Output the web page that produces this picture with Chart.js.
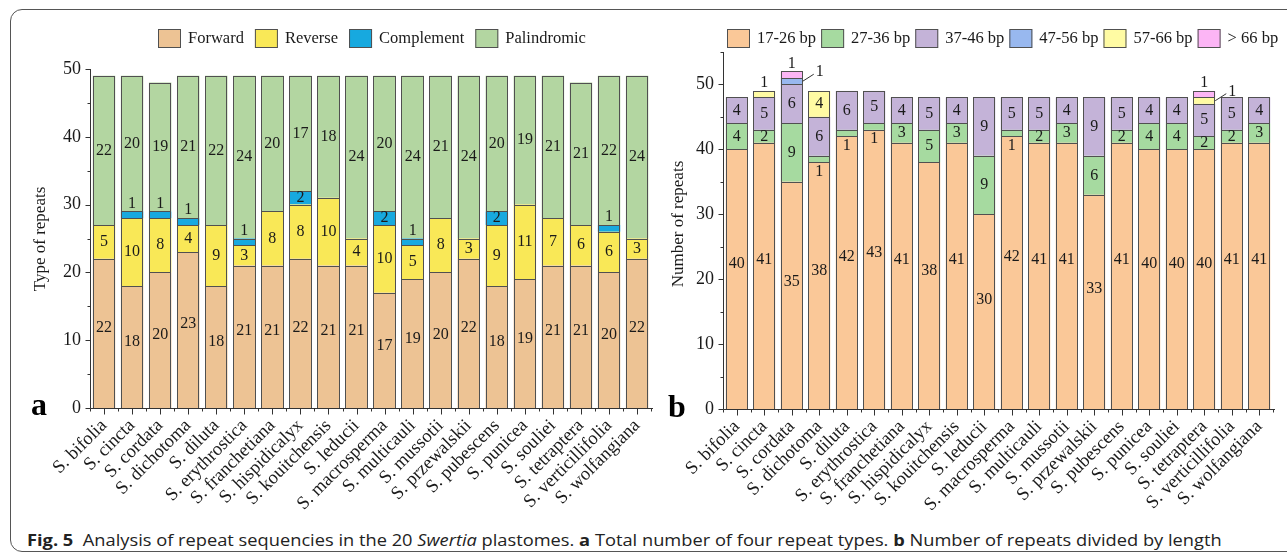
<!DOCTYPE html>
<html>
<head>
<meta charset="utf-8">
<script src="https://cdn.jsdelivr.net/npm/chart.js@4.4.1/dist/chart.umd.min.js"></script>
<style>
  html, body { margin: 0; padding: 0; background: #fff; }
  #fig { position: relative; width: 1287px; height: 554px; overflow: hidden; background: #fff; }
  #frame { position: absolute; left: 10px; top: 9px; width: 1320px; height: 543px;
           border: 1.3px solid #555; border-radius: 12px; box-sizing: border-box; }
  #ca { position: absolute; left: 0; top: 0; }
  #cb { position: absolute; left: 660px; top: 0; }
  #caption { position: absolute; left: 27px; top: 529px; font-family: 'Open Sans', sans-serif;
             font-size: 15.5px; color: #222; white-space: nowrap;
             transform-origin: 0 50%; transform: scaleX(1.178); }
  #caption b { font-weight: 700; }
</style>
</head>
<body>
<div id="fig">
  <div id="frame"></div>
  <canvas id="ca" width="660" height="510"></canvas>
  <canvas id="cb" width="627" height="510"></canvas>
  <div id="caption"><b>Fig. 5</b>&nbsp;&nbsp;Analysis of repeat sequencies in the 20 <i>Swertia</i> plastomes. <b>a</b> Total number of four repeat types. <b>b</b> Number of repeats divided by length</div>
</div>
<script>
// Species (x categories, shared by both panels)
const species = ['S. bifolia', 'S. cincta', 'S. cordata', 'S. dichotoma', 'S. diluta',
  'S. erythrostica', 'S. franchetiana', 'S. hispidicalyx', 'S. kouitchensis', 'S. leducii',
  'S. macrosperma', 'S. multicauli', 'S. mussotii', 'S. przewalskii', 'S. pubescens',
  'S. punicea', 'S. souliei', 'S. tetraptera', 'S. verticillifolia', 'S. wolfangiana'];

// Panel a: repeat types
const typeNames = ['Forward', 'Reverse', 'Complement', 'Palindromic'];
const forward     = [22, 18, 20, 23, 18, 21, 21, 22, 21, 21, 17, 19, 20, 22, 18, 19, 21, 21, 20, 22];
const reverse     = [ 5, 10,  8,  4,  9,  3,  8,  8, 10,  4, 10,  5,  8,  3,  9, 11,  7,  6,  6,  3];
const complement  = [ 0,  1,  1,  1,  0,  1,  0,  2,  0,  0,  2,  1,  0,  0,  2,  0,  0,  0,  1,  0];
const palindromic = [22, 20, 19, 21, 22, 24, 20, 17, 18, 24, 20, 24, 21, 24, 20, 19, 21, 21, 22, 24];
const typeColors  = ['#EDC394', '#F9E857', '#17A9DF', '#B3D6A1'];

// Panel b: repeats by length class
const lengthNames = ['17-26 bp', '27-36 bp', '37-46 bp', '47-56 bp', '57-66 bp', '> 66 bp'];
const len17to26 = [40, 41, 35, 38, 42, 43, 41, 38, 41, 30, 42, 41, 41, 33, 41, 40, 40, 40, 41, 41];
const len27to36 = [ 4,  2,  9,  1,  1,  1,  3,  5,  3,  9,  1,  2,  3,  6,  2,  4,  4,  2,  2,  3];
const len37to46 = [ 4,  5,  6,  6,  6,  5,  4,  5,  4,  9,  5,  5,  4,  9,  5,  4,  4,  5,  5,  4];
const len47to56 = [ 0,  0,  1,  0,  0,  0,  0,  0,  0,  0,  0,  0,  0,  0,  0,  0,  0,  0,  0,  0];
const len57to66 = [ 0,  1,  0,  4,  0,  0,  0,  0,  0,  0,  0,  0,  0,  0,  0,  0,  0,  1,  0,  0];
const lenOver66 = [ 0,  0,  1,  0,  0,  0,  0,  0,  0,  0,  0,  0,  0,  0,  0,  0,  0,  1,  0,  0];
const lengthColors = ['#FAC898', '#A6DAA0', '#C4B3D8', '#98B8EF', '#FFFBA3', '#FCB5F5'];

// Axis tick settings
const yMaxA = 50, yMaxB = 55, yMajorStep = 10, yMinorStep = 5;

const SERIF = "'Liberation Serif', 'Times New Roman', serif";
const INK = '#1a1a1a';
const EDGE = '#505050';
Chart.defaults.font.family = SERIF;
Chart.defaults.color = INK;

function makeDatasets(names, series, colors) {
  return names.map((name, k) => ({
    label: name,
    data: series[k],
    backgroundColor: colors[k],
    borderWidth: 0,
    barPercentage: 0.8,
    categoryPercentage: 1.0
  }));
}

// Crisp one-pixel outlines around every non-empty segment (shared edges coincide)
const outlinePlugin = {
  id: 'segOutlines',
  afterDatasetsDraw(chart) {
    const ctx = chart.ctx;
    ctx.save();
    ctx.strokeStyle = EDGE;
    ctx.lineWidth = 1;
    chart.data.datasets.forEach((ds, k) => {
      chart.getDatasetMeta(k).data.forEach((el, i) => {
        if (!ds.data[i]) return;
        const p = el.getProps(['x', 'y', 'base', 'width'], true);
        const l = Math.round(p.x - p.width / 2), r = Math.round(p.x + p.width / 2);
        const t = Math.round(p.y), b = Math.round(p.base);
        ctx.strokeRect(l + 0.5, t + 0.5, r - l - 1, b - t);
      });
    });
    ctx.restore();
  }
};

// Axis lines, major/minor ticks
const axesPlugin = {
  id: 'axesLines',
  afterDatasetsDraw(chart) {
    const ctx = chart.ctx, xs = chart.scales.x, ys = chart.scales.y, a = chart.chartArea;
    const L = Math.round(a.left) + 0.5, B = Math.round(a.bottom) + 0.5;
    ctx.save();
    ctx.strokeStyle = '#333';
    ctx.lineWidth = 1;
    ctx.beginPath();
    ctx.moveTo(L, Math.round(a.top));
    ctx.lineTo(L, B);
    ctx.lineTo(Math.round(a.right) + 2, B);
    for (let v = 0; v <= ys.max; v += yMinorStep) {
      const py = Math.round(ys.getPixelForValue(v)) + 0.5;
      const len = v % yMajorStep === 0 ? 5 : 3;
      ctx.moveTo(L - len, py); ctx.lineTo(L, py);
    }
    const n = chart.data.labels.length;
    for (let i = 0; i < n; i++) {
      const px = Math.round(xs.getPixelForValue(i)) + 0.5;
      ctx.moveTo(px, B); ctx.lineTo(px, B + 6);
    }
    for (let i = 0; i <= n; i++) {
      const px = Math.round(xs.getPixelForValue(i - 0.5)) + 0.5;
      ctx.moveTo(px, B); ctx.lineTo(px, B + 3);
    }
    ctx.stroke();
    ctx.restore();
  }
};

// Legend row, axis title and panel letter
function decorPlugin(opts) {
  return {
    id: 'decor',
    afterDraw(chart) {
      const ctx = chart.ctx;
      ctx.save();
      ctx.font = '16.5px ' + SERIF;
      ctx.textBaseline = 'middle';
      ctx.textAlign = 'left';
      let x = opts.legendX;
      const y = opts.legendY;
      chart.data.datasets.forEach(ds => {
        ctx.fillStyle = ds.backgroundColor;
        ctx.fillRect(x, y, 23, 19);
        ctx.strokeStyle = EDGE;
        ctx.lineWidth = 1;
        ctx.strokeRect(x + 0.5, y + 0.5, 22, 18);
        ctx.fillStyle = INK;
        ctx.fillText(ds.label, x + 30, y + 10);
        x += 30 + ctx.measureText(ds.label).width + opts.legendGap;
      });
      // axis title
      ctx.save();
      ctx.translate(opts.titleX, opts.titleY);
      ctx.rotate(-Math.PI / 2);
      ctx.font = '17px ' + SERIF;
      ctx.textAlign = 'center';
      ctx.fillText(opts.title, 0, 0);
      ctx.restore();
      // panel letter
      ctx.font = 'bold 32px ' + SERIF;
      ctx.textBaseline = 'alphabetic';
      ctx.fillStyle = '#000';
      ctx.fillText(opts.letter, opts.letterX, opts.letterY);
      ctx.restore();
    }
  };
}

// Value labels on stacked segments
function segLabelPlugin(mode) {
  return {
    id: 'segLabels',
    afterDatasetsDraw(chart) {
      const ctx = chart.ctx;
      const sets = chart.data.datasets;
      const n = chart.data.labels.length;
      ctx.save();
      ctx.font = '16px ' + SERIF;
      ctx.fillStyle = INK;
      ctx.strokeStyle = '#333';
      ctx.lineWidth = 1;
      ctx.textBaseline = 'middle';
      for (let i = 0; i < n; i++) {
        let top = -1;
        sets.forEach((ds, k) => { if (ds.data[i] > 0) top = k; });
        sets.forEach((ds, k) => {
          const v = ds.data[i];
          if (!v) return;
          const el = chart.getDatasetMeta(k).data[i];
          const p = el.getProps(['x', 'y', 'base', 'width'], true);
          const txt = String(v);
          ctx.textAlign = 'center';
          if (mode === 'a') {
            if (k === 2 && v === 1) {
              ctx.fillText(txt, p.x, p.y - 8);
            } else {
              const f = k === 0 ? 0.54 : 0.5;
              ctx.fillText(txt, p.x, p.base + (p.y - p.base) * f);
            }
          } else {
            if (v === 1 && k === top && k > 0) {
              ctx.fillText(txt, p.x, p.y - 8);
            } else if (v === 1 && k === 1) {
              ctx.fillText(txt, p.x, p.base + 9);
            } else if (v === 1 && k > 1) {
              const ex = p.x + p.width / 2, my = (p.y + p.base) / 2;
              ctx.beginPath();
              ctx.moveTo(ex, my);
              ctx.lineTo(ex + 11, my - 7);
              ctx.stroke();
              ctx.textAlign = 'left';
              ctx.fillText(txt, ex + 13, my - 9);
            } else {
              const f = k === 0 ? 0.56 : 0.5;
              ctx.fillText(txt, p.x, p.base + (p.y - p.base) * f);
            }
          }
        });
      }
      ctx.restore();
    }
  };
}

function makeChart(canvasId, datasets, yMax, geo, mode, decor) {
  return new Chart(document.getElementById(canvasId), {
    type: 'bar',
    data: { labels: species, datasets },
    options: {
      responsive: false,
      animation: false,
      layout: { padding: { left: 0, right: geo.right, top: geo.top, bottom: 0 } },
      plugins: { legend: { display: false }, tooltip: { enabled: false } },
      scales: {
        x: {
          stacked: true,
          grid: { display: false, drawTicks: false },
          border: { display: false },
          ticks: { autoSkip: false, minRotation: 45, maxRotation: 45, padding: 7,
                   font: { size: 18.5, family: SERIF }, color: INK },
          afterFit(s) { s.height = geo.xHeight; }
        },
        y: {
          stacked: true,
          min: 0,
          max: yMax,
          grid: { display: false, drawTicks: false },
          border: { display: false },
          ticks: { stepSize: yMajorStep, padding: 9, font: { size: 18, family: SERIF }, color: INK,
                   callback: (v) => (v % yMajorStep === 0 ? v : '') },
          afterFit(s) { s.width = geo.yWidth; }
        }
      }
    },
    plugins: [outlinePlugin, axesPlugin, segLabelPlugin(mode), decorPlugin(decor)]
  });
}

makeChart('ca',
  makeDatasets(typeNames, [forward, reverse, complement, palindromic], typeColors),
  yMaxA,
  { right: 8, top: 69, xHeight: 102, yWidth: 90 },
  'a',
  { legendX: 158, legendY: 29, legendGap: 11, title: 'Type of repeats', titleX: 41, titleY: 239,
    letter: 'a', letterX: 31, letterY: 415 });

makeChart('cb',
  makeDatasets(lengthNames, [len17to26, len27to36, len37to46, len47to56, len57to66, lenOver66], lengthColors),
  yMaxB,
  { right: 14, top: 52, xHeight: 101, yWidth: 63 },
  'b',
  { legendX: 67, legendY: 29, legendGap: 5, title: 'Number of repeats', titleX: 19, titleY: 224,
    letter: 'b', letterX: 8, letterY: 417 });
</script>
</body>
</html>
